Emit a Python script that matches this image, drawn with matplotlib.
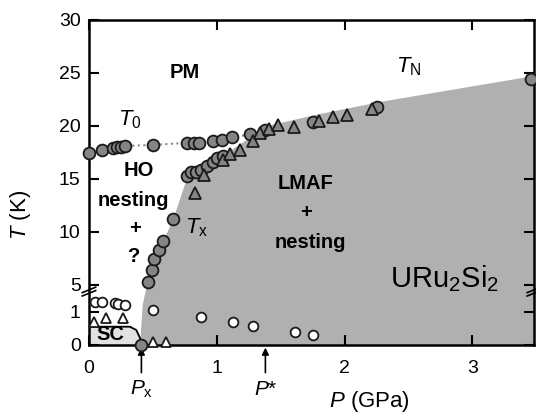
import numpy as np
import matplotlib.pyplot as plt

plt.rcParams['font.family'] = ['Liberation Sans', 'DejaVu Sans']
plt.rcParams['mathtext.fontset'] = 'custom'
plt.rcParams['mathtext.rm'] = 'Liberation Sans'
plt.rcParams['mathtext.it'] = 'Liberation Sans:italic'
plt.rcParams['mathtext.bf'] = 'Liberation Sans:bold'

# T0 line (gray circles)
t0_P = [0.0, 0.10, 0.19, 0.22, 0.25, 0.28, 0.50, 0.77, 0.82, 0.86, 0.97, 1.04, 1.12, 1.26]
t0_T = [17.4, 17.7, 17.9, 18.0, 18.0, 18.1, 18.2, 18.4, 18.4, 18.4, 18.6, 18.7, 18.9, 19.2]

# Tx / TN circles
tx_P = [0.41, 0.46, 0.49, 0.51, 0.55, 0.58, 0.66, 0.77, 0.80, 0.84, 0.88, 0.92, 0.97, 1.00, 1.05, 1.38, 1.75, 2.25, 3.46]
tx_T = [0.0, 5.3, 6.4, 7.4, 8.3, 9.1, 11.2, 15.3, 15.6, 15.6, 15.8, 16.2, 16.6, 17.0, 17.2, 19.6, 20.4, 21.8, 24.4]

# TN triangles
tn_P = [0.83, 0.90, 1.05, 1.10, 1.18, 1.28, 1.34, 1.41, 1.48, 1.60, 1.80, 1.91, 2.02, 2.21]
tn_T = [13.7, 15.4, 16.8, 17.3, 17.7, 18.6, 19.3, 19.7, 20.1, 19.9, 20.5, 20.8, 21.0, 21.6]

# open circles (low T)
oc_P = [0.05, 0.10, 0.20, 0.23, 0.28, 0.50, 0.88, 1.13, 1.28, 1.61, 1.75]
oc_T = [2.4, 2.4, 2.3, 2.2, 2.0, 1.3, 0.85, 0.7, 0.58, 0.4, 0.3]

# open triangles
ot_P = [0.04, 0.13, 0.27, 0.50, 0.60]
ot_T = [0.7, 0.8, 0.8, 0.1, 0.1]

# boundary of LMAF region
lm_P = [0.40, 0.42, 0.46, 0.55, 0.66, 0.76, 0.90, 1.10, 1.40, 1.80, 2.30, 3.48, 3.48]
lm_T = [0.0, 2.0, 5.3, 8.3, 11.2, 14.8, 16.2, 17.6, 20.0, 21.1, 22.3, 24.7, 0.0]

# SC dome
sc_P = [0.0, 0.03, 0.32, 0.37, 0.40, 0.42]
sc_T = [0.55, 0.55, 0.55, 0.45, 0.2, 0.0]

T_knots = [-100, 0, 1, 5, 30, 100]
u_knots = [-3300, 0, 33, 60, 325, 1067]


def fwd(t):
    return np.interp(t, T_knots, u_knots)


def inv(u):
    return np.interp(u, u_knots, T_knots)


fig = plt.figure(figsize=(5.36, 4.13), dpi=100)
ax = fig.add_axes([0.166, 0.165, 0.830, 0.787])
ax.set_yscale('function', functions=(fwd, inv))
ax.set_xlim(0, 3.48)
ax.set_ylim(0, 30)

ax.fill(lm_P + [0.40], lm_T + [0.0], color='#b0b0b0', lw=0, zorder=1)
ax.fill(sc_P + [0.0], sc_T + [0.0], color='#e2e2e2', lw=0, zorder=1)
ax.plot(sc_P[1:], sc_T[1:], color='k', lw=1.3, zorder=2)

ax.plot(t0_P, t0_T, ':', color='#888888', lw=1.5, zorder=2)

mk = dict(mec='#1a1a1a', mew=1.3, ls='none', zorder=4, clip_on=False)
ax.plot(t0_P, t0_T, 'o', ms=8.5, mfc='#858585', **mk)
ax.plot(tx_P, tx_T, 'o', ms=8.5, mfc='#858585', **mk)
ax.plot(tn_P, tn_T, '^', ms=9, mfc='#858585', **mk)
ax.plot(oc_P, oc_T, 'o', ms=7, mfc='white', **mk)
ax.plot(ot_P, ot_T, '^', ms=6.5, mfc='white', **mk)

# labels
bold = dict(fontsize=14.5, fontweight='bold', ha='center', va='center', zorder=5)
ax.text(0.75, 25.0, 'PM', **bold)
ax.text(0.39, 15.8, 'HO', **bold)
ax.text(0.35, 13.0, 'nesting', **bold)
ax.text(0.36, 10.3, '+', **bold)
ax.text(0.35, 7.7, '?', **bold)
ax.text(1.69, 14.6, 'LMAF', **bold)
ax.text(1.70, 11.8, '+', **bold)
ax.text(1.73, 9.0, 'nesting', **bold)
ax.text(0.17, 0.3, 'SC', **bold)
ax.text(0.32, 20.6, r'$T_0$', fontsize=16, ha='center', va='center')
ax.text(2.50, 25.6, r'$T_{\rm N}$', fontsize=16, ha='center', va='center')
ax.text(0.84, 10.4, r'$T_{\rm x}$', fontsize=16, ha='center', va='center', zorder=5)
ax.text(2.78, 5.6, r'URu$_2$Si$_2$', fontsize=21, ha='center', va='center', zorder=5)

# pressure arrows
for p, lab in [(0.41, r'$P_{\rm x}$'), (1.38, r'$P$*')]:
    ax.annotate('', xy=(p, 0), xycoords='data', xytext=(0, -22), textcoords='offset points',
                arrowprops=dict(arrowstyle='-|>', color='k', lw=1.2, mutation_scale=10))
    ax.annotate(lab, xy=(p, 0), xycoords='data', xytext=(0, -32), textcoords='offset points',
                ha='center', va='center', fontsize=15, annotation_clip=False)

# axis break marks
for xa in [0.0, 1.0]:
    for dy in [-0.25, 0.25]:
        ax.plot([xa - 0.015, xa + 0.015], [3.6 + dy, 4.4 + dy], color='k', lw=1.2,
                transform=ax.get_yaxis_transform(), clip_on=False, zorder=6)

ax.set_yticks([0, 1, 5, 10, 15, 20, 25, 30])
ax.set_xticks([0, 1, 2, 3])
ax.tick_params(direction='in', length=7, width=1.5, labelsize=14, top=True, right=True)
ax.tick_params(axis='x', pad=11)
ax.tick_params(axis='y', pad=6)
for s in ax.spines.values():
    s.set_linewidth(1.8)

ax.set_xlabel(r'$P$ (GPa)', fontsize=16)
ax.set_ylabel(r'$T$ (K)', fontsize=16)
ax.xaxis.set_label_coords(0.63, -0.135)
ax.yaxis.set_label_coords(-0.125, 0.40)

fig.savefig('out.png', dpi=100)
